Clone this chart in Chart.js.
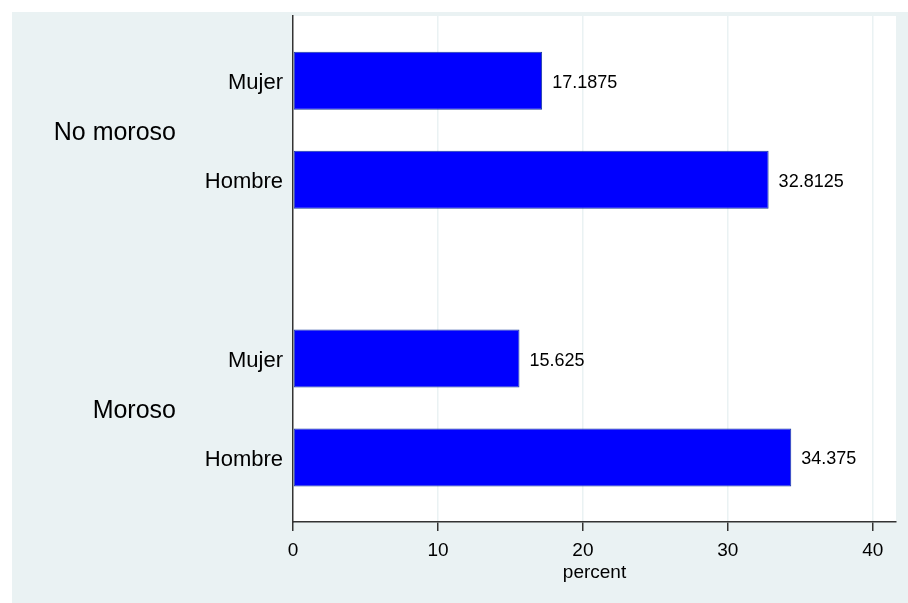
<!DOCTYPE html>
<html>
<head>
<meta charset="utf-8">
<script src="https://cdn.jsdelivr.net/npm/chart.js@4/dist/chart.umd.min.js"></script>
<style>
  html, body { margin: 0; padding: 0; background: #ffffff; }
  #wrap { width: 908px; height: 603px; }
</style>
</head>
<body>
<div id="wrap"><canvas id="c" width="908" height="603"></canvas></div>
<script>
// ---- data ----
const groups = ['No moroso', 'Moroso'];
const sexes = ['Mujer', 'Hombre'];
const noMoroso = [17.1875, 32.8125];
const moroso = [15.625, 34.375];
const xTicks = [0, 10, 20, 30, 40];

// ---- build chart table ----
const groupValues = [noMoroso, moroso];
const groupGap = 0.808;           // extra space between groups, in bar slots
const points = [];
const sexTicks = [];
const groupTicks = [];
groups.forEach((g, gi) => {
  const start = gi * (sexes.length + groupGap);
  sexes.forEach((s, si) => {
    const p = start + si;
    points.push({ x: groupValues[gi][si], y: p });
    sexTicks.push({ value: p, label: s });
  });
  groupTicks.push({ value: start + (sexes.length - 1) / 2, label: g });
});
const yMin = -0.655;
const yMax = (groups.length - 1) * (sexes.length + groupGap) + (sexes.length - 1) + 0.652;

const BG = '#EAF2F3';
const FONT = "'Liberation Sans', Arial, Helvetica, sans-serif";

const bgPlugin = {
  id: 'bg',
  beforeDraw(chart) {
    const { ctx, chartArea } = chart;
    ctx.save();
    ctx.fillStyle = '#ffffff';
    ctx.fillRect(0, 0, chart.width, chart.height);
    ctx.fillStyle = BG;
    ctx.fillRect(12, 12, chart.width - 12, chart.height - 12);
    ctx.fillStyle = '#ffffff';
    ctx.fillRect(chartArea.left, chartArea.top, chartArea.right - chartArea.left, chartArea.bottom - chartArea.top);
    ctx.restore();
  }
};

const valueLabels = {
  id: 'valueLabels',
  afterDatasetsDraw(chart) {
    const { ctx } = chart;
    const meta = chart.getDatasetMeta(0);
    ctx.save();
    ctx.font = '18px ' + FONT;
    ctx.fillStyle = '#000000';
    ctx.textAlign = 'left';
    ctx.textBaseline = 'middle';
    meta.data.forEach((el, i) => {
      const v = chart.data.datasets[0].data[i].x;
      ctx.fillText(String(v), el.x + 10, el.y + 2);
    });
    ctx.restore();
  }
};

function noEndPadding(scale) {
  scale.paddingTop = 0;
  scale.paddingBottom = 0;
}

new Chart(document.getElementById('c'), {
  type: 'bar',
  data: {
    datasets: [{
      data: points,
      backgroundColor: '#0000FF',
      borderColor: '#1a3c9c',
      borderWidth: 1,
      borderSkipped: false,
      barPercentage: 0.586,
      categoryPercentage: 1
    }]
  },
  options: {
    responsive: false,
    animation: false,
    indexAxis: 'y',
    layout: { padding: { top: 16, right: 12, bottom: 0, left: 0 } },
    plugins: { legend: { display: false }, tooltip: { enabled: false } },
    scales: {
      x: {
        type: 'linear',
        position: 'bottom',
        min: 0,
        max: 41.6,
        afterBuildTicks(scale) { scale.ticks = xTicks.map(v => ({ value: v })); },
        afterFit(scale) { scale.height = 81; },
        grid: {
          color: (ctx) => ctx.tick && ctx.tick.value === 0 ? 'rgba(0,0,0,0)' : BG,
          lineWidth: 1.5,
          tickColor: '#333333',
          tickLength: 9,
          tickWidth: 1.5
        },
        border: { display: true, color: '#333333', width: 1.5 },
        ticks: {
          color: '#000000',
          font: { family: FONT, size: 19 },
          padding: 8,
          maxRotation: 0,
          callback: (v) => String(v)
        },
        title: {
          display: true,
          text: 'percent',
          color: '#000000',
          font: { family: FONT, size: 19 },
          padding: { top: 0, bottom: 19 }
        }
      },
      y: {
        type: 'linear',
        position: 'left',
        reverse: true,
        offset: false,
        min: yMin,
        max: yMax,
        weight: 0,
        afterBuildTicks(scale) { scale.ticks = sexTicks.map(t => ({ value: t.value })); },
        afterFit(scale) { scale.width = 103; noEndPadding(scale); },
        grid: { display: false, drawTicks: false, offset: false },
        border: { display: true, color: '#333333', width: 1.5 },
        ticks: {
          color: '#000000',
          font: { family: FONT, size: 22 },
          padding: 10,
          labelOffset: 2,
          autoSkip: false,
          callback: (v) => { const t = sexTicks.find(s => s.value === v); return t ? t.label : ''; }
        }
      },
      yGroup: {
        type: 'linear',
        position: 'left',
        reverse: true,
        offset: false,
        min: yMin,
        max: yMax,
        weight: 1,
        afterBuildTicks(scale) { scale.ticks = groupTicks.map(t => ({ value: t.value })); },
        afterFit(scale) { scale.width = 190; noEndPadding(scale); },
        grid: { display: false, drawTicks: false, offset: false },
        border: { display: false },
        ticks: {
          color: '#000000',
          font: { family: FONT, size: 25 },
          padding: 14,
          labelOffset: 3,
          autoSkip: false,
          callback: (v) => { const t = groupTicks.find(s => s.value === v); return t ? t.label : ''; }
        }
      }
    }
  },
  plugins: [bgPlugin, valueLabels]
});
</script>
</body>
</html>
